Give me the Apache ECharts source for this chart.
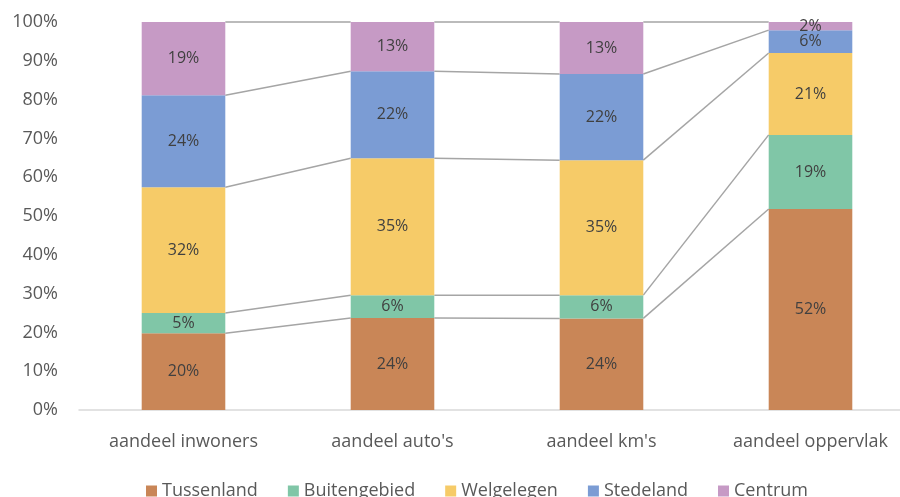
<!DOCTYPE html>
<html><head><meta charset="utf-8">
<script src="https://cdn.jsdelivr.net/npm/echarts@6/dist/echarts.min.js"></script>
<style>html,body{margin:0;padding:0;background:#fff}#c{width:900px;height:497px}</style>
</head><body><div id="c"></div>
<script>
const categories = ["aandeel inwoners", "aandeel auto's", "aandeel km's", "aandeel oppervlak"];
const seriesNames = ["Tussenland", "Buitengebied", "Welgelegen", "Stedeland", "Centrum"];
const tussenland = [19.8, 23.7, 23.6, 51.8];
const buitengebied = [5.2, 5.9, 6.0, 19.1];
const welgelegen = [32.4, 35.3, 34.8, 21.1];
const stedeland = [23.7, 22.4, 22.2, 5.9];
const centrum = [18.9, 12.7, 13.4, 2.1];
const yTicks = [0, 10, 20, 30, 40, 50, 60, 70, 80, 90, 100];

const colors = ["#c98657", "#80c6a7", "#f6cb68", "#7b9cd4", "#c69ac5"];
const allVals = [tussenland, buitengebied, welgelegen, stedeland, centrum];
const FONT = "'Open Sans', Lato, sans-serif";

const cumData = categories.map((c, i) => {
  let s = 0; const row = [i];
  allVals.forEach(v => { s += v[i]; row.push(s); });
  return row;
});

const barSeries = seriesNames.map((n, k) => ({
  name: n, type: 'bar', stack: 'total', data: allVals[k], barWidth: '40%',
  itemStyle: { color: colors[k] },
  label: { show: true, position: 'inside', color: '#404040', fontSize: 16, fontFamily: FONT,
    formatter: p => Math.round(p.value) + '%' },
  z: 3
}));

const lineSeries = {
  type: 'custom', name: 'connectors', silent: true, z: 2,
  data: cumData.slice(0, categories.length - 1),
  encode: { x: 0, y: 1 },
  renderItem: function (params, api) {
    const i = api.value(0);
    const band = api.size([1, 0])[0];
    const half = band * 0.2;
    const children = [];
    for (let k = 1; k <= seriesNames.length; k++) {
      const p1 = api.coord([i, api.value(k)]);
      const p2 = api.coord([i + 1, cumData[i + 1][k]]);
      children.push({ type: 'line', shape: { x1: p1[0] + half, y1: p1[1], x2: p2[0] - half, y2: p2[1] },
        style: { stroke: '#a5a5a5', lineWidth: 1.5 } });
    }
    return { type: 'group', children };
  }
};

const chart = echarts.init(document.getElementById('c'));
chart.setOption({
  animation: false,
  grid: { left: 79, top: 22, width: 836, height: 388, outerBoundsMode: 'none', containLabel: false },
  legend: {
    data: seriesNames, left: 141, top: 477, itemWidth: 11, itemHeight: 11, itemGap: 30, icon: 'rect',
    textStyle: { fontSize: 18, color: '#595959', fontFamily: FONT }
  },
  xAxis: {
    type: 'category', data: categories,
    axisLine: { lineStyle: { color: '#d9d9d9', width: 1.5 } }, axisTick: { show: false },
    axisLabel: { fontSize: 18, color: '#595959', fontFamily: FONT, margin: 23 }
  },
  yAxis: {
    type: 'value', min: yTicks[0], max: yTicks[yTicks.length - 1], interval: 10,
    splitLine: { show: false }, axisLine: { show: false }, axisTick: { show: false },
    axisLabel: { fontSize: 18, color: '#595959', fontFamily: FONT, margin: 21, formatter: v => v + '%' }
  },
  series: [...barSeries, lineSeries]
});
</script></body></html>
